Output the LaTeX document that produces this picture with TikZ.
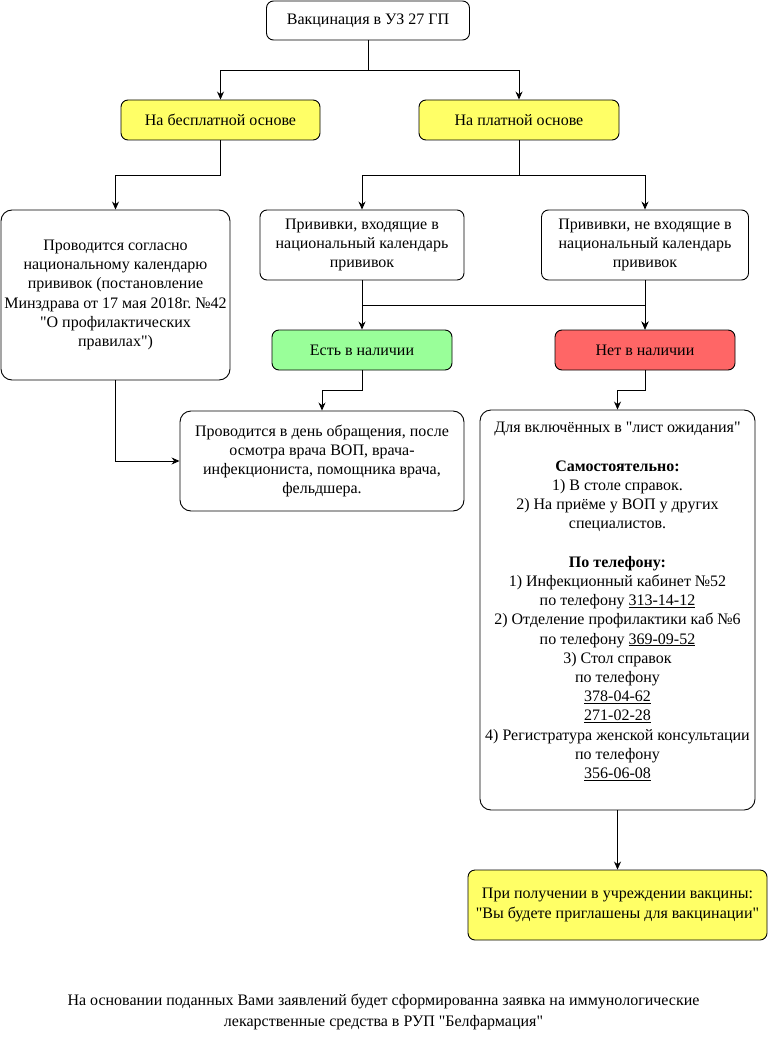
\documentclass[tikz,border=0pt]{standalone}
\usepackage{fontspec}
\setmainfont{Liberation Serif}[Ligatures=TeXOff]
\usetikzlibrary{arrows.meta}
\definecolor{yel}{HTML}{FFFF66}
\definecolor{grn}{HTML}{99FF99}
\definecolor{rd}{HTML}{FF6666}
\tikzset{
  box/.style={draw=black, line width=0.9pt, rounded corners=7pt, align=center, inner sep=1pt,
    font=\fontsize{16}{19.2}\selectfont},
  bigbox/.style={box, rounded corners=11pt},
  arr/.style={draw=black, line width=0.9pt, -{Stealth[length=8pt,width=7pt]}},
}
\begin{document}
\frenchspacing
\begin{tikzpicture}[x=1pt,y=-1pt]
\useasboundingbox (0,0) rectangle (768,1051);
\node[box, minimum width=203pt, minimum height=39pt] (top) at (368,20.5) {Вакцинация в УЗ 27 ГП};
\node[box, fill=yel, minimum width=199pt, minimum height=40pt] (free) at (220.5,120) {На бесплатной основе};
\node[box, fill=yel, minimum width=200pt, minimum height=40pt] (paid) at (519,120) {На платной основе};
\node[bigbox, minimum width=229pt, minimum height=170pt] (left) at (115.5,295)
  {Проводится согласно\\национальному календарю\\прививок (постановление\\Минздрава от 17 мая 2018г. №42\\"О профилактических\\правилах")};
\node[box, minimum width=204pt, minimum height=70pt] (inc) at (362,245)
  {Прививки, входящие в\\национальный календарь\\прививок};
\node[box, minimum width=207pt, minimum height=70pt] (nin) at (645,245)
  {Прививки, не входящие в\\национальный календарь\\прививок};
\node[box, fill=grn, minimum width=180pt, minimum height=40pt] (est) at (362,350) {Есть в наличии};
\node[box, fill=rd, minimum width=180pt, minimum height=40pt] (net) at (645,350) {Нет в наличии};
\node[bigbox, minimum width=284pt, minimum height=100pt] (day) at (322,461)
  {Проводится в день обращения, после\\осмотра врача ВОП, врача-\\инфекциониста, помощника врача,\\фельдшера.};
\node[bigbox, minimum width=275pt, minimum height=400pt] (wait) at (617.5,610)
  {Для включённых в "лист ожидания"\\~\\\textbf{Самостоятельно:}\\1) В столе справок.\\2) На приёме у ВОП у других\\специалистов.\\~\\\textbf{По телефону:}\\1) Инфекционный кабинет №52\\по телефону \underline{313-14-12}\\2) Отделение профилактики каб №6\\по телефону \underline{369-09-52}\\3) Стол справок\\по телефону\\\underline{378-04-62}\\\underline{271-02-28}\\4) Регистратура женской консультации\\по телефону\\\underline{356-06-08}\\~};
\node[box, fill=yel, minimum width=299pt, minimum height=70pt] (inv) at (617.5,905)
  {При получении в учреждении вакцины:\\"Вы будете приглашены для вакцинации"};
\node[align=center, inner sep=1pt, font=\fontsize{16}{20.5}\selectfont] (note) at (383.5,1012)
  {На основании поданных Вами заявлений будет сформированна заявка на иммунологические\\лекарственные средства в РУП "Белфармация"};
\draw[arr] (top.south) -- ++(0,30) -| (free.north);
\draw[arr] (top.south) -- ++(0,30) -| (paid.north);
\draw[arr] (free.south) -- ++(0,35) -| (left.north);
\draw[arr] (paid.south) -- ++(0,35) -| (inc.north);
\draw[arr] (paid.south) -- ++(0,35) -| (nin.north);
\draw[arr] (inc.south) -- (est.north);
\draw[arr] (inc.south) -- ++(0,25) -| (net.north);
\draw[arr] (nin.south) -- (net.north);
\draw[arr] (est.south) -- ++(0,20) -| (day.north);
\draw[arr] (left.south) |- (day.west);
\draw[arr] (net.south) -- ++(0,20) -| (wait.north);
\draw[arr] (wait.south) -- (inv.north);
\end{tikzpicture}
\end{document}
